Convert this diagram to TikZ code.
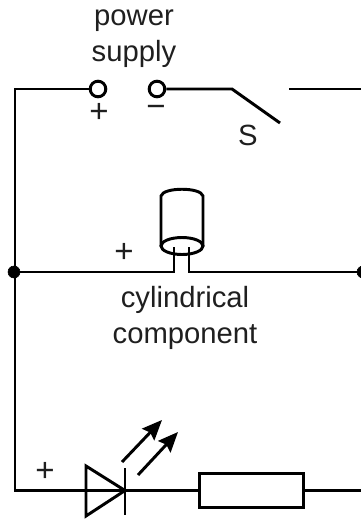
\documentclass[tikz,border=0pt]{standalone}
\usepackage{fontspec}
\setmainfont{Liberation Sans}
\usetikzlibrary{arrows.meta}
\tikzset{
	wire/.style={line width=2.1pt, color=black},
	terminal/.style={draw, circle, line width=2.1pt, inner sep=0pt, minimum size=0.39cm, fill=white},
	junction/.style={draw, circle, fill=black, inner sep=0pt, minimum size=0.3cm},
	resistor/.style={draw, rectangle, line width=2.1pt, inner sep=0pt, minimum width=2.58cm, minimum height=0.87cm},
	label/.style={inner sep=0pt, align=center, text=black!88, font=\fontsize{20.8}{25.5}\selectfont},
	sign/.style={inner sep=0pt, text=black!88, font=\fontsize{23.5}{25}\selectfont},
	emit/.style={line width=2.1pt, -{Stealth[length=0.5cm,width=0.42cm,inset=0.07cm]}}
}
\begin{document}
\begin{tikzpicture}[x=0.025cm,y=-0.025cm]
	\useasboundingbox (0,0) rectangle (361,519);
	\node[label] (supply) at (134,39) {power\\supply};
	\node[sign] (plus1) at (99,113) {+};
	\node[sign] (minus) at (156,111) {\textminus};
	\node[label] (s) at (248,135) {S};
	\node[sign] (plus2) at (124,253) {+};
	\node[sign] (plus3) at (45,472) {+};
	\node[label] (name) at (185,318) {cylindrical\\component};

	\node[terminal] (t1) at (98,89) {};
	\node[terminal] (t2) at (157,89) {};
	\coordinate (corner) at (15,89);
	\coordinate (swa) at (232,89);
	\coordinate (swb) at (280,123);
	\coordinate (swc) at (289,89);
	\coordinate (swd) at (361,89);
	\draw[wire] (t1) -- (corner) -- (15,490.5) -- (86,490.5) coordinate (ledin);
	\draw[wire] (t2) -- (swa) -- (swb);
	\draw[wire] (swc) -- (swd);

	% middle branch
	\node[junction] (j1) at (14,272) {};
	\node[junction] (j2) at (363,272) {};
	\coordinate (leada) at (174,247);
	\coordinate (leadb) at (189,247);
	\draw[wire] (j1) -- (174,272) -- (leada);
	\draw[wire] (j2) -- (189,272) -- (leadb);
	\draw[wire] (161,246) -- (161,196) .. controls (163,187) and (201,187) .. (203,196) -- (203,246);
	\draw[wire] (182,246) ellipse [x radius=21, y radius=8.5];

	% bottom branch
	\coordinate (ledtop) at (86,466);
	\coordinate (ledbot) at (86,516);
	\coordinate (ledtip) at (125,490.5);
	\node[resistor] (r) at (251.5,490.5) {};
	\draw[wire, line join=miter] (ledtop) -- (ledtip) -- (ledbot) -- cycle;
	\draw[wire] (125,468) -- (125,515);
	\draw[wire] (ledin) -- (ledtip) -- (r.west);
	\draw[wire] (r.east) -- (361,490.5);
	\draw[emit] (122,462) -- (162,420);
	\draw[emit] (138,475) -- (178,432);
\end{tikzpicture}
\end{document}
